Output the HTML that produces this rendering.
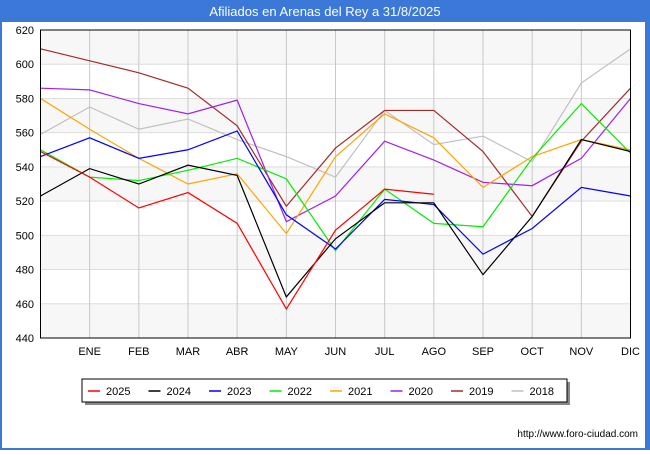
<!DOCTYPE html>
<html><head><meta charset="utf-8"><style>
body{margin:0;width:650px;height:450px;background:#fff;font-family:"Liberation Sans",sans-serif;overflow:hidden}
</style></head><body>
<svg width="650" height="450" xmlns="http://www.w3.org/2000/svg">
<rect x="0" y="0" width="650" height="22" fill="#3b78d8"/>
<text x="325" y="16" text-anchor="middle" fill="#fff" font-size="13">Afiliados en Arenas del Rey a 31/8/2025</text>
<rect x="645" y="22" width="5" height="428" fill="#3b78d8"/>
<rect x="0" y="22" width="2" height="428" fill="#3b78d8"/>
<rect x="0" y="448" width="650" height="2" fill="#3b78d8"/>
<g id="grid"></g>
<g id="lines"></g>
<rect x="40.5" y="30" width="590" height="308" fill="none" stroke="#000"/>
<g id="axes"></g>
<rect x="85" y="382" width="485" height="23" fill="#888"/>
<rect x="82" y="379" width="485" height="23" fill="#fff" stroke="#000"/>
<g id="legend"></g>
<text x="638" y="437" text-anchor="end" font-size="10" fill="#000">http://www.foro-ciudad.com</text>
</svg>
<script>
const months=["","ENE","FEB","MAR","ABR","MAY","JUN","JUL","AGO","SEP","OCT","NOV","DIC"];
const yTicks=[440,460,480,500,520,540,560,580,600,620];
const seriesNames=["2025","2024","2023","2022","2021","2020","2019","2018"];
const seriesColors=["#ff0000","#000000","#0000ff","#00ee00","#ffa500","#a020f0","#a52a2a","#c0c0c0"];
const s2025=[549,534,516,525,507,457,503,527,524];
const s2024=[523,539,530,541,535,464,498,519,519,477,511,556,549];
const s2023=[546,557,545,550,561,512,492,521,518,489,504,528,523];
const s2022=[550,534,532,538,545,533,491,527,507,505,545,577,548];
const s2021=[580,562,545,530,536,501,546,571,557,528,546,556,550];
const s2020=[586,585,577,571,579,508,523,555,544,531,529,545,580];
const s2019=[609,602,595,586,564,517,551,573,573,549,511,555,586];
const s2018=[559,575,562,568,556,546,534,573,553,558,543,589,609];
const allSeries=[s2025,s2024,s2023,s2022,s2021,s2020,s2019,s2018];
const NS="http://www.w3.org/2000/svg";
const X=i=>40.5+i*(590/12);
const Y=v=>338-(v-440)*(308/180);
function mk(t,a,p){const e=document.createElementNS(NS,t);for(const k in a)e.setAttribute(k,a[k]);p.appendChild(e);return e;}
const grid=document.getElementById('grid'),axes=document.getElementById('axes'),lines=document.getElementById('lines'),leg=document.getElementById('legend');
for(let i=0;i<yTicks.length-1;i++){if(i%2==0){const r=mk('rect',{x:40.5,y:Y(yTicks[i+1]),width:590,height:Y(yTicks[i])-Y(yTicks[i+1]),fill:'#f7f7f7'},grid);}}
yTicks.forEach(v=>{const l=mk('line',{x1:40.5,x2:630.5,y1:Y(v),y2:Y(v),stroke:'#ddd'},grid);
const t=mk('text',{x:34,y:Y(v)+4,'text-anchor':'end','font-size':'11'},axes);t.textContent=v;});
months.forEach((m,i)=>{if(i>0){const l=mk('line',{x1:X(i),x2:X(i),y1:30,y2:338,stroke:'#c8c8c8'},grid);}
const t=mk('text',{x:X(i),y:355,'text-anchor':'middle','font-size':'11'},axes);t.textContent=m;});
for(let k=allSeries.length-1;k>=0;k--){const p=mk('polyline',{points:allSeries[k].map((v,i)=>X(i)+','+Y(v)).join(' '),fill:'none',stroke:seriesColors[k],'stroke-width':1.2},lines);
}
seriesNames.forEach((n,k)=>{const x=88+k*60.5;const l=mk('line',{x1:x,x2:x+12,y1:391,y2:391,stroke:seriesColors[k],'stroke-width':1.5},leg);
const t=mk('text',{x:x+18,y:395,'font-size':'11'},leg);t.textContent=n;});
</script>
</body></html>
